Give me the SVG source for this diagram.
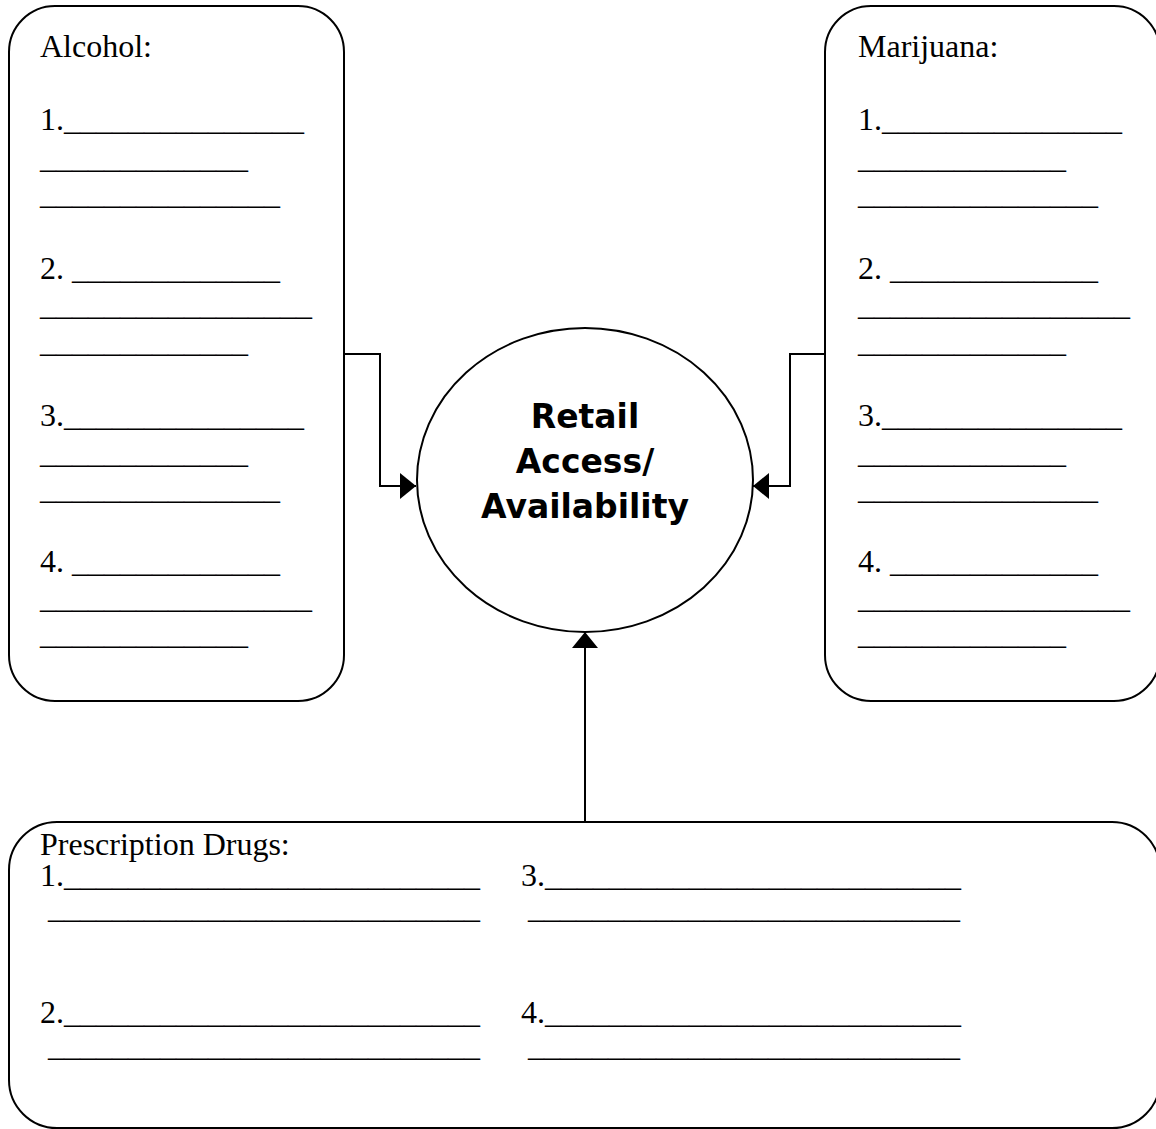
<svg xmlns="http://www.w3.org/2000/svg" width="1156" height="1129" viewBox="0 0 1156 1129">
<style>
.box{fill:#fff;stroke:#000;stroke-width:2}
.t{font-family:"Liberation Serif","Times New Roman",serif;font-size:32px;fill:#000}
.c{font-family:"DejaVu Sans",Verdana,sans-serif;font-weight:bold;font-size:33px;fill:#000;text-anchor:middle}
.ln{fill:none;stroke:#000;stroke-width:2}
</style>
<defs>
<marker id="ah" markerWidth="16" markerHeight="26" refX="16" refY="13" orient="auto" markerUnits="userSpaceOnUse">
<path d="M0,0 L16,13 L0,26 Z" fill="#000"/>
</marker>
</defs>
<rect width="1156" height="1129" fill="#fff"/>
<g id="alcohol">
<rect class="box" x="9" y="6" width="335" height="695" rx="46" ry="46"/>
<text class="t" x="40" y="57">Alcohol:</text>
<text class="t" x="40" y="130">1._______________</text>
<text class="t" x="40" y="168">_____________</text>
<text class="t" x="40" y="204">_______________</text>
<text class="t" x="40" y="279">2. _____________</text>
<text class="t" x="40" y="315">_________________</text>
<text class="t" x="40" y="352">_____________</text>
<text class="t" x="40" y="426">3._______________</text>
<text class="t" x="40" y="463">_____________</text>
<text class="t" x="40" y="499">_______________</text>
<text class="t" x="40" y="572">4. _____________</text>
<text class="t" x="40" y="608">_________________</text>
<text class="t" x="40" y="644">_____________</text>
</g>
<g id="marijuana">
<rect class="box" x="825" y="6" width="335" height="695" rx="46" ry="46"/>
<text class="t" x="858" y="57">Marijuana:</text>
<text class="t" x="858" y="130">1._______________</text>
<text class="t" x="858" y="168">_____________</text>
<text class="t" x="858" y="204">_______________</text>
<text class="t" x="858" y="279">2. _____________</text>
<text class="t" x="858" y="315">_________________</text>
<text class="t" x="858" y="352">_____________</text>
<text class="t" x="858" y="426">3._______________</text>
<text class="t" x="858" y="463">_____________</text>
<text class="t" x="858" y="499">_______________</text>
<text class="t" x="858" y="572">4. _____________</text>
<text class="t" x="858" y="608">_________________</text>
<text class="t" x="858" y="644">_____________</text>
</g>
<g id="retail">
<ellipse cx="585" cy="480" rx="168" ry="152" fill="#fff" stroke="#000" stroke-width="2"/>
<text class="c" x="585" y="428">Retail</text>
<text class="c" x="585" y="473">Access/</text>
<text class="c" x="585" y="518">Availability</text>
</g>
<g id="prescription">
<rect class="box" x="9" y="822" width="1151" height="306" rx="48" ry="48"/>
<text class="t" x="40" y="855">Prescription Drugs:</text>
<text class="t" x="40" y="886">1.__________________________</text>
<text class="t" x="48" y="918">___________________________</text>
<text class="t" x="40" y="1023">2.__________________________</text>
<text class="t" x="48" y="1056">___________________________</text>
<text class="t" x="521" y="886">3.__________________________</text>
<text class="t" x="528" y="918">___________________________</text>
<text class="t" x="521" y="1023">4.__________________________</text>
<text class="t" x="528" y="1056">___________________________</text>
</g>
<g id="connectors">
<polyline class="ln" points="344,354 380,354 380,486 416,486" marker-end="url(#ah)"/>
<polyline class="ln" points="825,354 790,354 790,486 753,486" marker-end="url(#ah)"/>
<line class="ln" x1="585" y1="822" x2="585" y2="632" marker-end="url(#ah)"/>
</g>
</svg>
